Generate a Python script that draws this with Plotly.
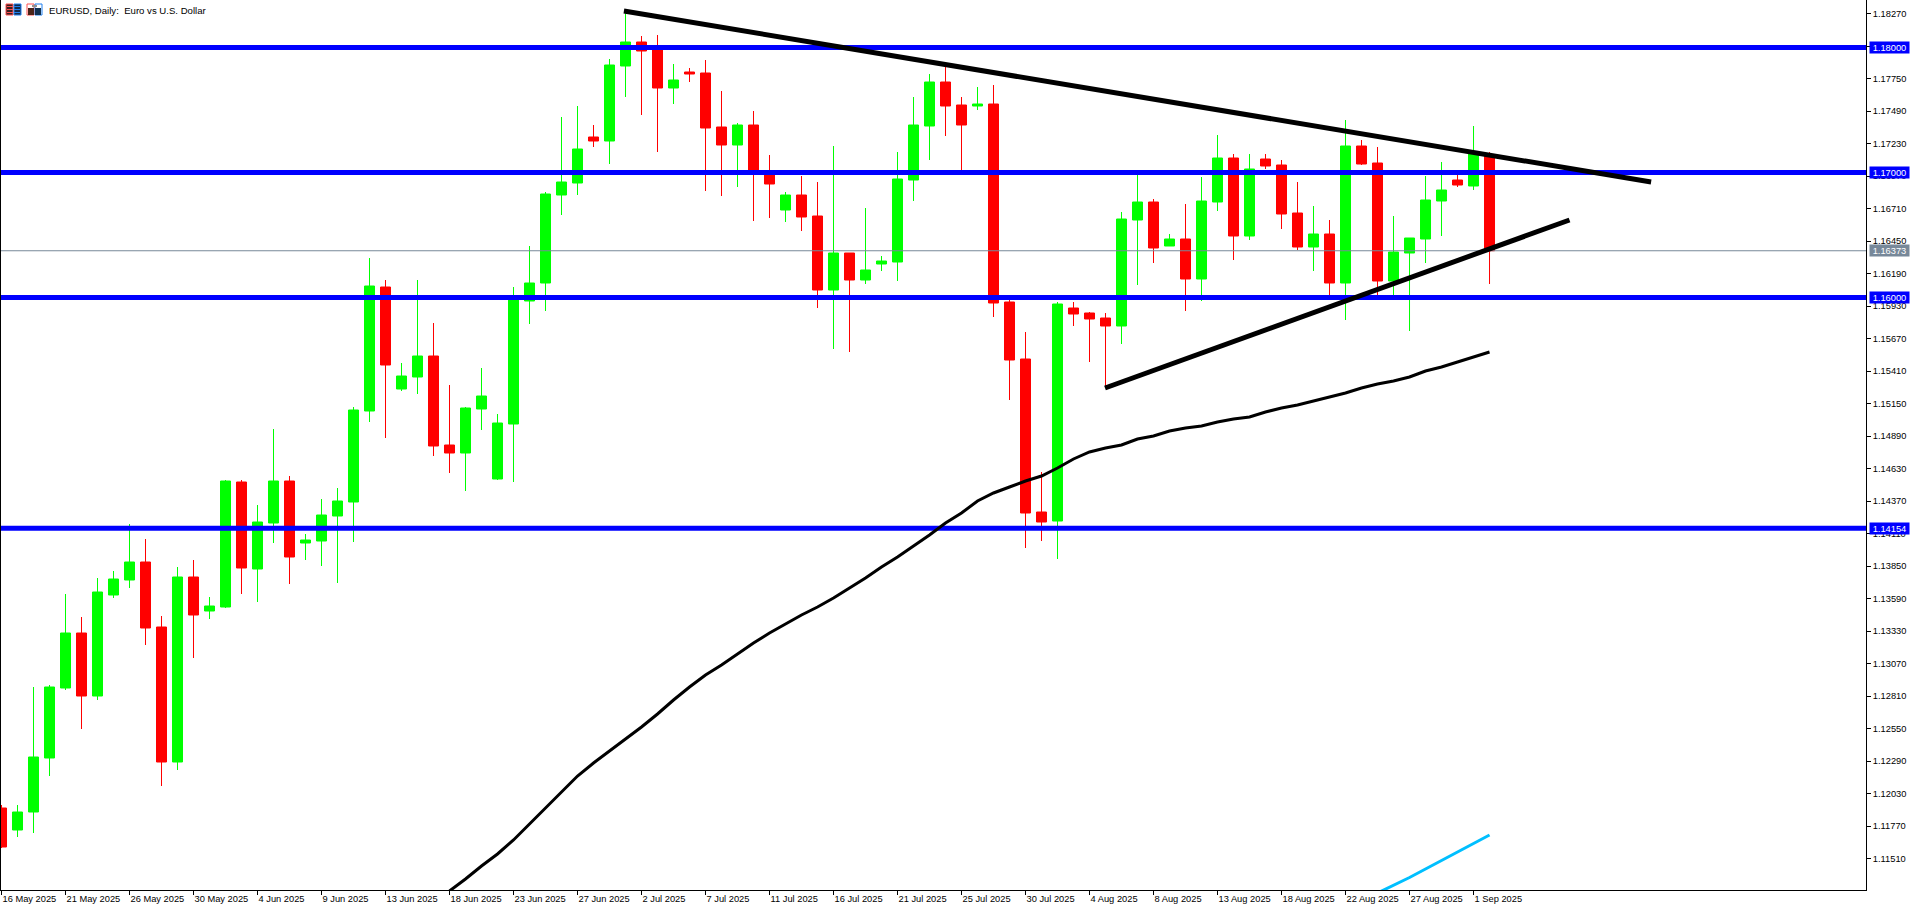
import plotly.graph_objects as go

FONT = "Liberation Sans, sans-serif"
AXIS_SIZE = 9.3
TITLE_SIZE = 9.6
W, H = 1918, 907
ML, MR, MT, MB = 1, 52, 0, 17

bar_index = list(range(94))
opens = [1.11915,1.11739,1.11883,1.12315,1.12875,1.13315,1.12811,1.13619,1.13739,1.13883,
1.13363,1.12283,1.13763,1.13491,1.13523,1.14523,1.13827,1.14195,1.14531,1.14035,
1.14051,1.14251,1.14363,1.15091,1.16083,1.15267,1.15363,1.15531,1.14819,1.14755,
1.15107,1.14547,1.14987,1.15971,1.16115,1.16819,1.16915,1.17283,1.17251,1.17851,
1.18043,1.18003,1.17675,1.17803,1.17795,1.17363,1.17219,1.17379,1.17003,1.16699,
1.16819,1.16651,1.16059,1.16355,1.16139,1.16267,1.16283,1.16939,1.17371,1.17723,
1.17539,1.17531,1.17547,1.15963,1.15507,1.14283,1.14211,1.15915,1.15875,1.15835,
1.15771,1.16619,1.16763,1.16411,1.16467,1.16147,1.16763,1.17115,1.16491,1.17107,
1.17059,1.16675,1.16403,1.16507,1.16115,1.17211,1.17075,1.16131,1.16355,1.16467,
1.16771,1.16939,1.16891,1.17139]
highs = [1.11939,1.11939,1.12883,1.12899,1.13627,1.13443,1.13755,1.13811,1.14187,1.14067,
1.13451,1.13843,1.13899,1.13603,1.14539,1.14539,1.14339,1.14947,1.14571,1.14107,
1.14387,1.14475,1.15123,1.16315,1.16139,1.15475,1.16139,1.15795,1.15299,1.15123,
1.15435,1.15067,1.16083,1.16411,1.16843,1.17443,1.17531,1.17379,1.17907,1.18275,
1.18091,1.18099,1.17867,1.17835,1.17899,1.17651,1.17395,1.17491,1.17139,1.16843,
1.16971,1.16923,1.17211,1.16355,1.16715,1.16331,1.17163,1.17603,1.17787,1.17843,
1.17603,1.17683,1.17699,1.15979,1.15723,1.14603,1.15963,1.15963,1.15883,1.15875,
1.16683,1.17003,1.16787,1.16507,1.16747,1.16963,1.17299,1.17147,1.17147,1.17147,
1.17099,1.16923,1.16731,1.16619,1.17419,1.17259,1.17203,1.16651,1.16475,1.16971,
1.17083,1.17003,1.17371,1.17163]
lows = [1.11595,1.11683,1.11715,1.12171,1.12859,1.12547,1.12779,1.13595,1.13675,1.13219,
1.12091,1.12219,1.13115,1.13427,1.13515,1.13627,1.13563,1.14035,1.13707,1.13899,
1.13851,1.13715,1.14043,1.15003,1.14875,1.15251,1.15227,1.14731,1.14595,1.14451,
1.14939,1.14539,1.14523,1.15787,1.15891,1.16659,1.16819,1.17203,1.17067,1.17603,
1.17459,1.17163,1.17547,1.17723,1.16851,1.16811,1.16883,1.16611,1.16635,1.16603,
1.16531,1.15915,1.15587,1.15563,1.16107,1.16211,1.16131,1.16771,1.17099,1.17291,
1.17019,1.17499,1.15843,1.15179,1.13995,1.14051,1.13907,1.15771,1.15483,1.15291,
1.15627,1.16099,1.16275,1.16411,1.15891,1.15971,1.16691,1.16299,1.16459,1.17027,
1.16547,1.16379,1.16211,1.16019,1.15819,1.17059,1.16019,1.16019,1.15731,1.16275,
1.16491,1.16883,1.16859,1.16107]
closes = [1.11603,1.11883,1.12323,1.12883,1.13315,1.12811,1.13643,1.13747,1.13883,1.13355,
1.12283,1.13763,1.13459,1.13531,1.14531,1.13835,1.14203,1.14531,1.13923,1.14059,
1.14259,1.14371,1.15099,1.16091,1.15459,1.15371,1.15531,1.14811,1.14755,1.15115,
1.15211,1.14995,1.15995,1.16115,1.16827,1.16923,1.17187,1.17251,1.17859,1.18043,
1.17971,1.17675,1.17739,1.17787,1.17355,1.17219,1.17379,1.17003,1.16907,1.16819,
1.16643,1.16059,1.16355,1.16139,1.16219,1.16291,1.16947,1.17379,1.17723,1.17531,
1.17379,1.17547,1.15955,1.15499,1.14275,1.14203,1.15947,1.15867,1.15827,1.15771,
1.16627,1.16763,1.16395,1.16467,1.16147,1.16771,1.17115,1.16491,1.17027,1.17051,
1.16667,1.16403,1.16507,1.16115,1.17211,1.17067,1.16131,1.16363,1.16475,1.16779,
1.16859,1.16899,1.17163,1.16373]

ma_index = list(range(28, 94))
ma_slow = [1.11251,1.11347,1.11451,1.11547,1.11659,1.11787,1.11915,1.12043,1.12171,1.12275,
1.12371,1.12467,1.12563,1.12667,1.12779,1.12883,1.12979,1.13059,1.13147,1.13235,
1.13315,1.13387,1.13459,1.13523,1.13595,1.13675,1.13755,1.13843,1.13923,1.14011,
1.14099,1.14195,1.14275,1.14371,1.14435,1.14483,1.14531,1.14571,1.14635,1.14707,
1.14763,1.14795,1.14819,1.14867,1.14891,1.14931,1.14955,1.14971,1.15003,1.15027,
1.15043,1.15083,1.15115,1.15139,1.15171,1.15203,1.15235,1.15275,1.15307,1.15331,
1.15363,1.15411,1.15443,1.15483,1.15523,1.15563]

cyan_index = [86, 87, 88, 89, 90, 91, 92, 93]
ma_cyan = [1.11235,1.11295,1.11359,1.11427,1.11495,1.11563,1.11631,1.11699]

falling_x = [38.9, 103.1]
falling_y = [1.18291, 1.16923]
rising_x = [68.97, 98.0]
rising_y = [1.15275, 1.16619]

levels = [1.18000, 1.17000, 1.16000, 1.14154]
level_labels = ["1.18000", "1.17000", "1.16000", "1.14154"]
last_price = 1.16373
last_label = "1.16373"

y_ticks = [1.18270,1.18010,1.17750,1.17490,1.17230,1.16970,1.16710,1.16450,1.16190,1.15930,
1.15670,1.15410,1.15150,1.14890,1.14630,1.14370,1.14110,1.13850,1.13590,1.13330,
1.13070,1.12810,1.12550,1.12290,1.12030,1.11770,1.11510]
x_tick_index = list(range(0, 94, 4))
x_tick_labels = ["16 May 2025","21 May 2025","26 May 2025","30 May 2025","4 Jun 2025","9 Jun 2025",
"13 Jun 2025","18 Jun 2025","23 Jun 2025","27 Jun 2025","2 Jul 2025","7 Jul 2025","11 Jul 2025",
"16 Jul 2025","21 Jul 2025","25 Jul 2025","30 Jul 2025","4 Aug 2025","8 Aug 2025","13 Aug 2025",
"18 Aug 2025","22 Aug 2025","27 Aug 2025","1 Sep 2025"]
title = "EURUSD, Daily:  Euro vs U.S. Dollar"

x_range = [-0.03125, 116.53]
y_range = [1.11259, 1.18379]

fig = go.Figure()
fig.add_trace(go.Candlestick(
    x=bar_index, open=opens, high=highs, low=lows, close=closes,
    increasing=dict(line=dict(color="#00FF00", width=1), fillcolor="#00FF00"),
    decreasing=dict(line=dict(color="#FF0000", width=1), fillcolor="#FF0000"),
    whiskerwidth=0, hoverinfo="skip", showlegend=False))

fig.add_trace(go.Scatter(x=x_range, y=[last_price, last_price], mode="lines",
                         line=dict(color="#778899", width=1), hoverinfo="skip"))
for lv in levels:
    fig.add_trace(go.Scatter(x=x_range, y=[lv, lv], mode="lines",
                             line=dict(color="#0000FF", width=5), hoverinfo="skip"))
fig.add_trace(go.Scatter(x=ma_index, y=ma_slow, mode="lines",
                         line=dict(color="#000000", width=3), hoverinfo="skip"))
fig.add_trace(go.Scatter(x=cyan_index, y=ma_cyan, mode="lines",
                         line=dict(color="#00BFFF", width=3), hoverinfo="skip"))
fig.add_trace(go.Scatter(x=falling_x, y=falling_y, mode="lines",
                         line=dict(color="#000000", width=5), hoverinfo="skip"))
fig.add_trace(go.Scatter(x=rising_x, y=rising_y, mode="lines",
                         line=dict(color="#000000", width=5), hoverinfo="skip"))

annotations = []
for v, t, c in list(zip(levels, level_labels, ["#0000FF"] * 4)) + [(last_price, last_label, "#778899")]:
    annotations.append(dict(xref="paper", yref="y", x=1, y=v, xshift=3, xanchor="left", yanchor="middle",
                            text=t, showarrow=False, bgcolor=c, width=39, height=11, borderpad=0,
                            align="center", font=dict(family=FONT, size=AXIS_SIZE, color="#FFFFFF")))
annotations.append(dict(xref="paper", yref="paper", x=48 / W, y=1 - 10 / (H - MB), xanchor="left", yanchor="middle",
                        text=title, showarrow=False, borderpad=0,
                        font=dict(family=FONT, size=TITLE_SIZE, color="#000000")))


def px_rect(x0, y0, x1, y1, fill, line=None):
    return dict(type="rect", xref="paper", yref="paper", layer="above",
                x0=(x0 - ML) / (W - ML - MR), x1=(x1 - ML) / (W - ML - MR),
                y0=1 - y0 / (H - MB), y1=1 - y1 / (H - MB),
                fillcolor=fill, line=dict(color=line or fill, width=1 if line else 0))


shapes = [
    px_rect(6, 4, 13, 15, "#3a2020", "#FF5050"), px_rect(14, 4, 21, 15, "#12284a", "#2080F0"),
    px_rect(7, 6, 13, 7, "#FF5050"), px_rect(7, 9, 13, 10, "#FF5050"), px_rect(7, 12, 13, 13, "#FF5050"),
    px_rect(14, 6, 20, 7, "#2080F0"), px_rect(14, 9, 20, 10, "#2080F0"), px_rect(14, 12, 20, 13, "#2080F0"),
    px_rect(27, 4, 34, 15, "#FFFFFF", "#FF5050"), px_rect(35, 4, 42, 15, "#FFFFFF", "#2080F0"),
    px_rect(28, 8, 34, 15, "#4a2418"), px_rect(35, 8, 41, 15, "#103050"),
    px_rect(32, 5, 37, 7, "#909090"),
]

fig.update_layout(
    width=W, height=H, autosize=False,
    margin=dict(l=ML, r=MR, t=MT, b=MB, pad=0),
    paper_bgcolor="#FFFFFF", plot_bgcolor="#FFFFFF",
    showlegend=False, boxgap=0.375, boxgroupgap=0, boxmode="overlay",
    annotations=annotations, shapes=shapes,
    font=dict(family=FONT, size=AXIS_SIZE, color="#000000"),
    xaxis=dict(range=x_range, tickmode="array", tickvals=x_tick_index, ticktext=x_tick_labels,
               ticks="outside", ticklen=4, tickwidth=1, tickcolor="#000000",
               ticklabelposition="outside right", showgrid=False, zeroline=False,
               showline=True, linecolor="#000000", linewidth=1,
               rangeslider=dict(visible=False), tickangle=0,
               tickfont=dict(family=FONT, size=AXIS_SIZE, color="#000000")),
    yaxis=dict(range=y_range, side="right", tickmode="array", tickvals=y_ticks,
               ticktext=[f"{v:.5f}" for v in y_ticks],
               ticks="outside", ticklen=4, tickwidth=1, tickcolor="#000000",
               showgrid=False, zeroline=False, showline=True, mirror=True,
               linecolor="#000000", linewidth=1,
               tickfont=dict(family=FONT, size=AXIS_SIZE, color="#000000")),
)

fig.write_html("out.html", config=dict(displayModeBar=False),
               post_script="document.body.style.margin='0';document.body.style.overflow='hidden';")
